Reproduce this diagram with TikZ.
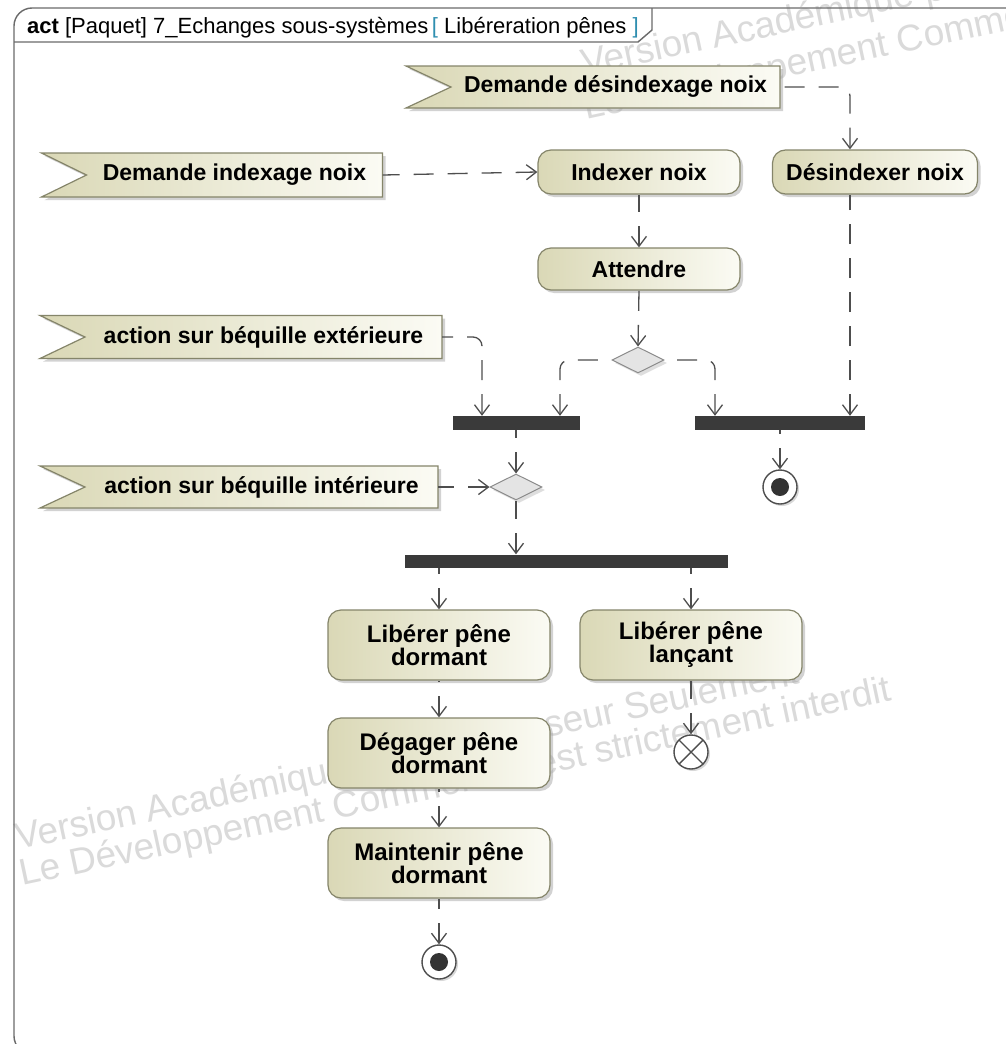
\documentclass[tikz,border=0pt]{standalone}
\usepackage{fontspec}
\setmainfont{Liberation Sans}
\usetikzlibrary{arrows.meta,shapes.geometric,shadows,calc}

\definecolor{linecol}{HTML}{4E4E4E}
\definecolor{framecol}{HTML}{6A6A6A}
\definecolor{actborder}{HTML}{85856A}
\definecolor{actleft}{HTML}{DAD8B6}
\definecolor{actright}{HTML}{FBFBF4}
\definecolor{barcol}{HTML}{3A3A3A}
\definecolor{wmark}{HTML}{DADADA}
\definecolor{bracketcol}{HTML}{2F8FB0}
\definecolor{decfill}{HTML}{E4E4E4}

% accept-event box: filled notched outline, then a named text node on top
\newcommand\sigbox[6]{%
  \path[sigshape] ({#2-#4/2},{#3-#5/2}) -- ({#2+#4/2},{#3-#5/2})
     -- ({#2+#4/2},{#3+#5/2}) -- ({#2-#4/2},{#3+#5/2})
     -- ({#2-#4/2+45},{#3}) -- cycle;
  \node[sigtext, minimum width=#4, minimum height=#5] (#1) at (#2,#3) {\hspace*{45pt}#6};}

\begin{document}
\begin{tikzpicture}[x=1pt,y=-1pt,
  every node/.style={inner sep=0pt},
  wm/.style={text=wmark, font=\fontsize{37}{42}\selectfont, rotate=12, anchor=base west},
  frame/.style={draw=framecol, line width=1.4pt},
  action/.style={draw=actborder, line width=1.2pt, rounded corners=13pt,
    left color=actleft, right color=actright,
    font=\bfseries\fontsize{23}{25}\selectfont, align=center,
    drop shadow={shadow xshift=3pt, shadow yshift=-3pt, fill=black!35}},
  action2/.style={action, font=\bfseries\fontsize{24}{23}\selectfont,
    minimum width=222pt, minimum height=70pt},
  sigshape/.style={draw=actborder, line width=1.2pt,
    left color=actleft, right color=actright,
    drop shadow={shadow xshift=3pt, shadow yshift=-3pt, fill=black!35}},
  sigtext/.style={font=\bfseries\fontsize{23}{26}\selectfont},
  bar/.style={fill=barcol, draw=none},
  decision/.style={diamond, draw=black!45, line width=1pt, fill=decfill,
    minimum width=52pt, minimum height=26pt,
    drop shadow={shadow xshift=3pt, shadow yshift=-3pt, fill=black!25}},
  final/.style={circle, draw=linecol, line width=1.4pt, fill=white, minimum size=34pt,
    drop shadow={shadow xshift=2pt, shadow yshift=-2pt, fill=black!30},
    path picture={\fill[black!80] (path picture bounding box.center) circle (9pt);}},
  flowfinal/.style={circle, draw=linecol, line width=1.4pt, fill=white, minimum size=34pt,
    drop shadow={shadow xshift=2pt, shadow yshift=-2pt, fill=black!30},
    path picture={\draw[linecol, line width=1.4pt]
      (path picture bounding box.center) ++(-12pt,-12pt) -- ++(24pt,24pt)
      (path picture bounding box.center) ++(-12pt,12pt) -- ++(24pt,-24pt);}},
  % every flow is written from its target back to its source,
  % so the dash pattern starts at the arrow tip
  flow/.style={draw=linecol, line width=1.3pt, {Straight Barb[length=10pt,width=15pt]}-,
    dash pattern=on 20pt off 14pt, rounded corners=9pt}]

\useasboundingbox (0,0) rectangle (1006,1044);
\clip (0,0) rectangle (1006,1044);
\fill[white] (0,0) rectangle (1006,1044);

% watermark text behind everything
\node[wm] at (584,76) {Version Académique pour Professeur Seulement};
\node[wm] at (586,120) {Le Développement Commercial est strictement interdit};
\node[wm] at (18,850) {Version Académique pour Professeur Seulement};
\node[wm] at (22,886) {Le Développement Commercial est strictement interdit};

% diagram frame and its name tab
\draw[frame, rounded corners=18pt] (14,8) rectangle (1040,1054);
\draw[frame] (14,42) -- (638,42) -- (652,30) -- (652,8);
\node[anchor=base west, font=\fontsize{22}{26}\selectfont] (title) at (27,33)
  {\textbf{act} [Paquet] 7\_Echanges sous-systèmes\,\textcolor{bracketcol}{[} Libéreration pênes \textcolor{bracketcol}{]}};

% accept-event actions
\sigbox{dmdes}{593}{87}{374}{42}{Demande désindexage noix}
\sigbox{dmidx}{212}{175}{341}{44}{Demande indexage noix}
\sigbox{bext}{241}{337}{402}{43}{action sur béquille extérieure}
\sigbox{bint}{239}{487}{398}{42}{action sur béquille intérieure}

% actions
\node[action, minimum width=202pt, minimum height=44pt] (idx) at (639,172) {Indexer noix};
\node[action, minimum width=205pt, minimum height=44pt] (desidx) at (875,172) {Désindexer noix};
\node[action, minimum width=202pt, minimum height=42pt] (att) at (639,269) {Attendre};
\node[action2] (libd) at (439,645) {Libérer pêne\\dormant};
\node[action2] (libl) at (691,645) {Libérer pêne\\lançant};
\node[action2] (deg) at (439,753) {Dégager pêne\\dormant};
\node[action2] (mnt) at (439,863) {Maintenir pêne\\dormant};

% control nodes
\node[decision] (dec1) at (638,360) {};
\node[decision] (dec2) at (516,487) {};
\node[bar, minimum width=127pt, minimum height=14pt] (bar1) at (516,423) {};
\node[bar, minimum width=170pt, minimum height=14pt] (bar2) at (780,423) {};
\node[bar, minimum width=323pt, minimum height=13pt] (bar3) at (566,561) {};
\node[final] (fin1) at (780,487) {};
\node[flowfinal] (ffin) at (691,752) {};
\node[final] (fin2) at (439,962) {};

% flows (target first)
\draw[flow] (idx.west) -- (dmidx.east);
\draw[flow] ([xshift=-25pt]desidx.north) |- (dmdes.east);
\draw[flow] ([xshift=70pt]bar2.north) -- ([xshift=-25pt]desidx.south);
\draw[flow] ([xshift=-34pt]bar1.north) |- (bext.east);
\draw[flow] ([xshift=44pt]bar1.north) |- (dec1.west);
\draw[flow] ([xshift=-65pt]bar2.north) |- (dec1.east);
\draw[flow] (dec2.west) -- (bint.east);
\draw[flow] (att.north) -- (idx.south);
\draw[flow] (dec1.north) -- (att.south);
\draw[flow] (dec2.north) -- (bar1.south);
\draw[flow] (fin1.north) -- (bar2.south);
\draw[flow] (dec2.south |- bar3.north) -- (dec2.south);
\draw[flow] (libd.north) -- (libd.north |- bar3.south);
\draw[flow] (libl.north) -- (libl.north |- bar3.south);
\draw[flow] (ffin.north) -- (libl.south);
\draw[flow] (deg.north) -- (libd.south);
\draw[flow] (mnt.north) -- (deg.south);
\draw[flow] (fin2.north) -- (mnt.south);
\end{tikzpicture}
\end{document}
